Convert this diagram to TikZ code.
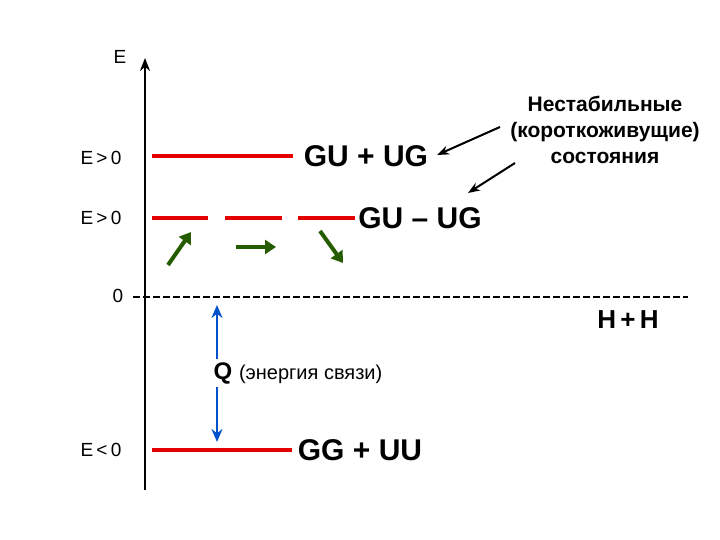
\documentclass[tikz,border=0pt]{standalone}
\usepackage{fontspec}
\setmainfont{Liberation Sans}
\usetikzlibrary{arrows.meta}
\begin{document}
\begin{tikzpicture}[x=1pt,y=-1pt,
 lvl/.style={draw=red!90!black,line width=4pt},
 grn/.style={draw=green!30!black!70!olive,line width=4pt,-{Triangle[length=11pt,width=14pt]}},
 blk/.style={draw=black,line width=2pt,-{Stealth[length=12pt,width=9pt]}},
 lab/.style={font=\fontsize{19}{21}\selectfont},
 big/.style={font=\fontsize{30}{34}\selectfont\bfseries}]
\useasboundingbox (0,0) rectangle (720,540);
\coordinate (a0) at (145,490); \coordinate (a1) at (145,58);
\draw[line width=2.5pt,-{Stealth[length=13pt,width=10pt]}] (a0) -- (a1);
\node[lab] (E) at (120,57) {E};
\node[lab] (e1) at (101,158) {E\,>\,0};
\node[lab] (e2) at (101,218) {E\,>\,0};
\node[lab] (z) at (118,296) {0};
\node[lab] (e3) at (101,450) {E\,<\,0};
\coordinate (l1a) at (152,156); \coordinate (l1b) at (293,156);
\draw[lvl] (l1a) -- (l1b);
\coordinate (d1a) at (152,218); \coordinate (d1b) at (208,218);
\coordinate (d2a) at (225,218); \coordinate (d2b) at (282,218);
\coordinate (d3a) at (298,218); \coordinate (d3b) at (355,218);
\draw[lvl] (d1a)--(d1b); \draw[lvl] (d2a)--(d2b); \draw[lvl] (d3a)--(d3b);
\coordinate (g1a) at (152,450); \coordinate (g1b) at (292,450);
\draw[lvl] (g1a) -- (g1b);
\node[big] (gu1) at (366,156) {GU + UG};
\node[big] (gu2) at (420,218) {GU -- UG};
\node[big] (gg) at (360,450) {GG + UU};
\node[font=\fontsize{26}{30}\selectfont\bfseries] (hh) at (628,320) {H\,+\,H};
\coordinate (h0) at (133,297); \coordinate (h1) at (688,297);
\draw[dash pattern=on 7pt off 3pt,line width=1.5pt] (h0) -- (h1);
\coordinate (q0) at (217,305); \coordinate (q1) at (217,442);
\node[font=\fontsize{24}{28}\selectfont\bfseries] (q) at (298,373) {Q {\mdseries\fontsize{20}{24}\selectfont(энергия связи)}};
\draw[draw=blue!60!cyan!80!black,line width=2.5pt,-{Stealth[length=13pt,width=11pt]}] (q.north west-|q0) -- (q0);
\draw[draw=blue!60!cyan!80!black,line width=2.5pt,-{Stealth[length=13pt,width=11pt]}] (q.south west-|q0) -- (q1);
\coordinate (ga1) at (168,265); \coordinate (gb1) at (191,232);
\coordinate (ga2) at (236,247); \coordinate (gb2) at (276,247);
\coordinate (ga3) at (320,231); \coordinate (gb3) at (343,263);
\draw[grn] (ga1)--(gb1); \draw[grn] (ga2)--(gb2); \draw[grn] (ga3)--(gb3);
\node[align=center,font=\fontsize{21}{26}\selectfont\bfseries] (ann) at (605,130) {Нестабильные\\(короткоживущие)\\состояния};
\coordinate (t1) at (437,155); \coordinate (t2) at (468,193);
\coordinate (s1) at (500,127); \coordinate (s2) at (515,163);
\draw[blk] (s1) -- (t1);
\draw[blk] (s2) -- (t2);
\end{tikzpicture}
\end{document}
